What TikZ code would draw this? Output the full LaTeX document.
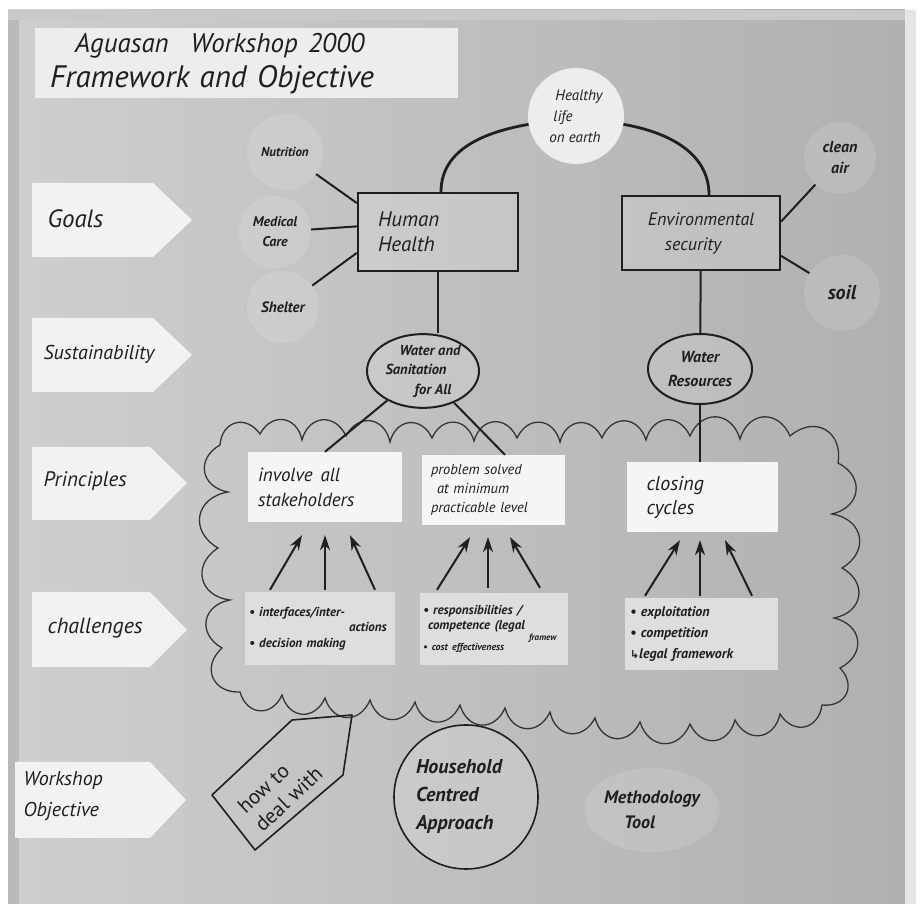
\documentclass[tikz,border=0pt]{standalone}
\usepackage{fontspec}
\setmainfont{PT Sans}
\newfontfamily\symfont{DejaVu Sans}
\usetikzlibrary{arrows.meta,calc,shapes.geometric}

\newcommand\fsz[2]{\fontsize{#1}{#2}\selectfont}

\definecolor{ink}{gray}{0.12}
\definecolor{paper}{gray}{0.95}
\definecolor{boardL}{gray}{0.81}
\definecolor{boardR}{gray}{0.69}
\definecolor{chal}{gray}{0.87}
\definecolor{princ}{gray}{0.96}
\definecolor{titlec}{gray}{0.93}

\tikzset{
  hand/.style={text=ink, font=\itshape},
  faint/.style={circle, fill=white, fill opacity=0.13, text opacity=1, inner sep=0pt, hand, align=center},
  goalbox/.style={rectangle, draw=ink, line width=2.2pt, fill=white, fill opacity=0.15, text opacity=1, minimum height=78pt, hand},
  oval/.style={ellipse, draw=ink, line width=2pt, fill=white, fill opacity=0.12, text opacity=1, inner sep=0pt, hand, align=center},
  princbox/.style={rectangle, fill=princ, minimum height=70pt, hand, align=left},
  chalbox/.style={rectangle, fill=chal, minimum height=72pt, hand, align=left},
  link/.style={draw=ink, line width=2pt},
  archline/.style={draw=ink, line width=2.8pt},
  arr/.style={draw=ink, line width=2pt, -{Stealth[length=15pt,width=10pt]}},
  bump/.style={bend left=70, looseness=1.5},
  cloudline/.style={draw=ink!90, line width=1.3pt},
  levelfill/.style={fill=paper},
  level/.style={hand, anchor=west, align=left}
}

\begin{document}
\begin{tikzpicture}[x=1pt,y=1pt]
\useasboundingbox (0,0) rectangle (916,910);
% the board and its frame
\fill[white] (0,0) rectangle (916,910);
\shade[left color=boardL, right color=boardR] (8,6) rectangle (905,900);
\fill[gray!55] (8,6) rectangle (19,900);
\fill[gray!42] (8,890) rectangle (905,900);
\fill[gray!20] (905,6) rectangle (916,900);

% heading card
\node[anchor=north west, fill=titlec, minimum height=70pt, text width=393pt, inner xsep=15pt,
      align=left, hand, font=\itshape\fsz{31}{35}] (title) at (35,882)
  {\hspace*{25pt}{\fsz{27}{35}Aguasan\hspace{22pt}Workshop 2000}\\Framework and Objective};

% level cards down the left edge
\fill[levelfill] (32,653) -- (153,653) -- (192,690) -- (153,727) -- (32,727) -- cycle;
\node[level, font=\itshape\fsz{25}{28}] (goals) at (44,691) {Goals};
\fill[levelfill] (32,518) -- (153,518) -- (192,555) -- (153,592) -- (32,592) -- cycle;
\node[level, font=\itshape\fsz{20}{24}] (sust) at (40,556) {Sustainability};
\fill[levelfill] (32,390) -- (150,390) -- (187,427) -- (150,463) -- (32,463) -- cycle;
\node[level, font=\itshape\fsz{21}{25}] (princ) at (40,429) {Principles};
\fill[levelfill] (32,243) -- (150,243) -- (187,280) -- (150,318) -- (32,318) -- cycle;
\node[level, font=\itshape\fsz{22}{26}] (chall) at (44,282) {challenges};
\fill[levelfill] (15,72) -- (150,72) -- (186,110) -- (150,148) -- (15,148) -- cycle;
\node[level, font=\itshape\fsz{20}{31}] (wsobj) at (20,114) {Workshop\\Objective};

% cloud around principles and challenges
\draw[cloudline] (220,465) to[bump] (260,476) to[bump] (302,470) to[bump] (346,474)
  to[bump] (390,468) to[bump] (432,472) to[bump] (474,469) to[bump] (517,472)
  to[bump] (560,468) to[bump] (602,472) to[bump] (646,470) to[bump] (690,474)
  to[bump] (740,471) to[bump] (790,474) to[bump] (838,447)
  to[bump] (832,396) to[bump] (842,342) to[bump] (834,292) to[bump] (840,242)
  to[bump] (822,205)
  to[bump] (780,196) to[bump] (735,190) to[bump] (690,186) to[bump] (640,188)
  to[bump] (595,192) to[bump] (550,198) to[bump] (505,202) to[bump] (460,205)
  to[bump] (415,208) to[bump] (370,210) to[bump] (325,212) to[bump] (282,215)
  to[bump] (240,218)
  to[bump] (222,262) to[bump] (230,310) to[bump] (218,362) to[bump] (228,418)
  to[bump] (220,465);

% goals
\node[faint, minimum size=76pt, font=\itshape\bfseries\fsz{13}{15}] (nutri) at (285,758) {Nutrition};
\node[faint, minimum size=72pt, font=\itshape\bfseries\fsz{14}{20}] (medic) at (275,678) {Medical\\Care};
\node[faint, minimum size=72pt, font=\itshape\bfseries\fsz{15}{18}] (shelt) at (283,603) {Shelter};
\node[faint, minimum size=72pt, font=\itshape\bfseries\fsz{16}{21}] (cleanair) at (840,752) {clean\\air};
\node[faint, minimum size=76pt, font=\itshape\bfseries\fsz{20}{24}] (soil) at (842,617) {soil};
\node[circle, fill=titlec, minimum size=96pt, inner sep=0pt, align=left, hand,
      font=\itshape\fsz{15}{21}] (healthy) at (576,794) {\hspace*{6pt}Healthy\\\hspace*{4pt}life\\on earth};

\node[goalbox, minimum width=160pt, text width=120pt, inner xsep=20pt, align=left,
      font=\itshape\fsz{21}{25}] (hh) at (438,678) {Human\\Health};
\node[goalbox, minimum width=158pt, minimum height=74pt, align=center,
      font=\itshape\fsz{18}{25}] (env) at (701,677) {Environmental\\\hspace*{-16pt}security};

% sustainability
\node[oval, minimum width=112pt, minimum height=72pt, font=\itshape\bfseries\fsz{14.5}{19.5}] (wsa) at (423,539)
  {\hspace*{14pt}Water and\\\hspace*{-14pt}Sanitation\\\hspace*{20pt}for All};
\node[oval, minimum width=104pt, minimum height=70pt, font=\itshape\bfseries\fsz{16}{24}] (wr) at (700,541)
  {Water\\Resources};

% principles
\node[princbox, minimum width=154pt, text width=134pt, inner xsep=10pt, font=\itshape\fsz{19}{25}] (inv) at (325,423)
  {involve\hspace{8pt}all\\stakeholders};
\node[princbox, minimum width=143pt, text width=125pt, inner xsep=9pt, font=\itshape\fsz{14.5}{19}] (prob) at (493.5,420)
  {problem solved\\\hspace*{6pt}at minimum\\practicable level};
\node[princbox, minimum width=151pt, text width=111pt, inner xsep=20pt, font=\itshape\fsz{20}{24}] (clos) at (702,413)
  {closing\\cycles};

% challenges
\node[chalbox, minimum width=150pt, minimum height=73pt, text width=142pt, inner xsep=4pt,
      font=\itshape\bfseries\fsz{13}{15.5}] (ch1) at (320,281.5)
  {• interfaces/inter-\\\hspace*{100pt}actions\\• decision making};
\node[chalbox, minimum width=148pt, text width=142pt, inner xsep=3pt,
      font=\itshape\bfseries\fsz{13}{15}] (ch2) at (494,281)
  {• responsibilities /\\\hspace*{5pt}competence (legal\\[-4pt]
   \hspace*{106pt}{\fsz{9}{9}framew}\\[-5pt]{\fsz{10}{11}• cost effectiveness}};
\node[chalbox, minimum width=153pt, text width=143pt, inner xsep=5pt,
      font=\itshape\bfseries\fsz{14}{21}] (ch3) at (701.5,276)
  {• exploitation\\• competition\\{\symfont\upshape\fsz{11}{11}↳}legal framework};

% workshop objective
\node[circle, draw=ink, line width=1.6pt, fill=white, fill opacity=0.15, text opacity=1,
      minimum size=144pt, inner sep=0pt, text width=100pt, align=left, hand,
      font=\itshape\bfseries\fsz{20}{28}] (hca) at (466,113)
  {Household\\Centred\\Approach};
\node[ellipse, fill=white, fill opacity=0.12, text opacity=1, minimum width=130pt,
      minimum height=84pt, inner sep=0pt, align=left, hand,
      font=\itshape\bfseries\fsz{18}{25}] (meth) at (652,100)
  {Methodology\\\hspace*{20pt}Tool};
\draw[draw=ink, line width=1.6pt, line join=round]
  (212,115) -- (292,190) -- (352,195) -- (343,135) -- (255,60) -- cycle;
\node[rotate=43, align=left, text=ink, inner sep=0pt, font=\fsz{21}{25}] (howto) at (280,120) {how to\\deal with};

% connectors
\draw[link] (nutri) -- ($(hh.north west)!0.14!(hh.south west)$);
\draw[link] (medic) -- ($(hh.north west)!0.43!(hh.south west)$);
\draw[link] (shelt) -- ($(hh.north west)!0.76!(hh.south west)$);
\draw[link] (cleanair) -- ($(env.north east)!0.35!(env.south east)$);
\draw[link] (soil) -- ($(env.north east)!0.8!(env.south east)$);
\draw[archline] ([xshift=3pt]hh.north) to[out=90,in=190] (healthy.190);
\draw[archline] (healthy.-10) to[out=-10,in=90] ([xshift=8pt]env.north);
\draw[link] (hh.south) -- (hh.south |- wsa.north);
\draw[link] (env) -- (wr);
\draw[link] (wsa) -- (inv.north);
\draw[link] (wsa) -- ($(prob.north west)!0.58!(prob.north east)$);
\draw[link] (wr) -- (wr |- clos.north);

% challenges feed the principles
\draw[arr] ([xshift=-50pt,yshift=2pt]ch1.north) -- ([xshift=-23pt,yshift=-13pt]inv.south);
\draw[arr] ([xshift=5pt,yshift=2pt]ch1.north) -- ([xshift=0pt,yshift=-13pt]inv.south);
\draw[arr] ([xshift=55pt,yshift=2pt]ch1.north) -- ([xshift=25pt,yshift=-13pt]inv.south);
\draw[arr] ([xshift=-57pt,yshift=3pt]ch2.north) -- ([xshift=-23.5pt,yshift=-12pt]prob.south);
\draw[arr] ([xshift=-6pt,yshift=5pt]ch2.north) -- ([xshift=-5.5pt,yshift=-12pt]prob.south);
\draw[arr] ([xshift=46pt,yshift=5pt]ch2.north) -- ([xshift=16.5pt,yshift=-12pt]prob.south);
\draw[arr] ([xshift=-56.5pt,yshift=2pt]ch3.north) -- ([xshift=-22pt,yshift=-8pt]clos.south);
\draw[arr] ([xshift=-1.5pt,yshift=2pt]ch3.north) -- ([xshift=-2pt,yshift=-8pt]clos.south);
\draw[arr] ([xshift=50.5pt,yshift=2pt]ch3.north) -- ([xshift=23pt,yshift=-8pt]clos.south);
\end{tikzpicture}
\end{document}
